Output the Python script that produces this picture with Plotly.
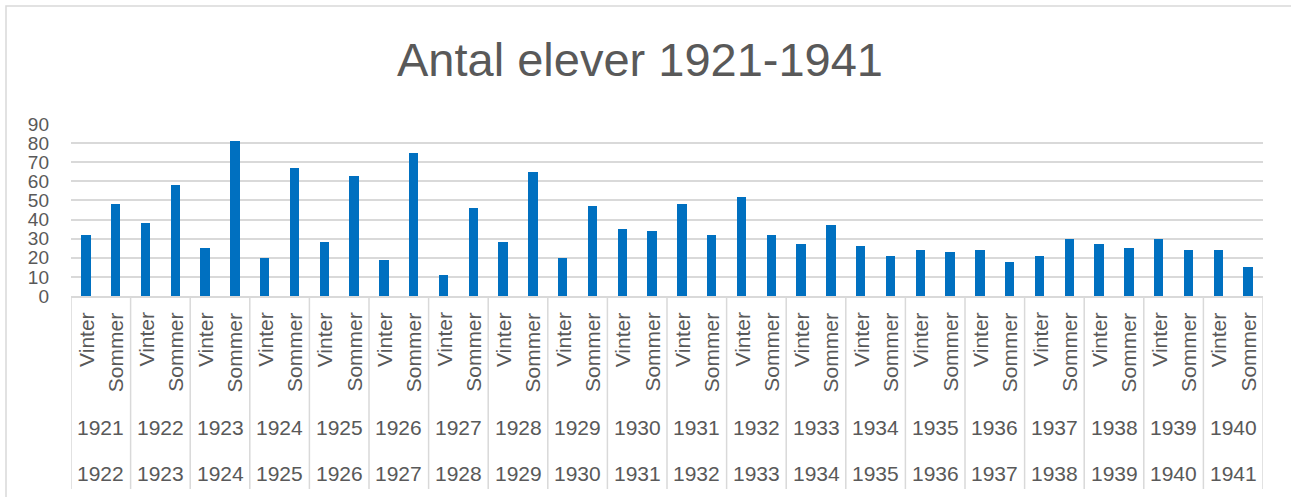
import plotly.graph_objects as go

# ---- data ----
seasons = ["Vinter", "Sommer"]
start_years = ["1921", "1922", "1923", "1924", "1925", "1926", "1927", "1928", "1929", "1930",
               "1931", "1932", "1933", "1934", "1935", "1936", "1937", "1938", "1939", "1940"]
end_years = ["1922", "1923", "1924", "1925", "1926", "1927", "1928", "1929", "1930", "1931",
             "1932", "1933", "1934", "1935", "1936", "1937", "1938", "1939", "1940", "1941"]
vinter = [32, 38, 25, 20, 28, 19, 11, 28, 20, 35, 48, 52, 27, 26, 24, 24, 21, 27, 30, 24]
sommer = [48, 58, 81, 67, 63, 75, 46, 65, 47, 34, 32, 32, 37, 21, 23, 18, 30, 25, 24, 15]
y_ticks = [0, 10, 20, 30, 40, 50, 60, 70, 80, 90]

# ---- layout geometry (pixels) ----
W, H = 1291, 497
L, R, T, B = 71, 1263, 124, 296
PW, PH = R - L, B - T


def xp(px):
    return (px - L) / PW


def yp(py):
    return (B - py) / PH


TXT = "#595959"
GRID = "#d9d9d9"
FONT = "Liberation Sans, Arial, sans-serif"

cats, vals, season_of = [], [], []
for i in range(len(start_years)):
    for s, arr in zip(seasons, (vinter, sommer)):
        cats.append(f"{start_years[i]}-{end_years[i]} {s}")
        vals.append(arr[i])
        season_of.append(s)

fig = go.Figure(go.Bar(x=cats, y=vals, width=0.32, marker=dict(color="#0070C0", line=dict(width=0))))

annotations = []
shapes = []
for c, s in zip(cats, season_of):
    annotations.append(dict(x=c, xref="x", y=yp(311), yref="paper", text=s, textangle=-90,
                            showarrow=False, xanchor="center", yanchor="top",
                            font=dict(size=21, color=TXT, family=FONT)))
for i in range(len(start_years)):
    xc = 2 * i + 0.5
    annotations.append(dict(x=xc, xref="x", y=yp(427), yref="paper", text=start_years[i],
                            showarrow=False, xanchor="center", yanchor="middle",
                            font=dict(size=21, color=TXT, family=FONT)))
    annotations.append(dict(x=xc, xref="x", y=yp(473), yref="paper", text=end_years[i],
                            showarrow=False, xanchor="center", yanchor="middle",
                            font=dict(size=21, color=TXT, family=FONT)))
for k in range(len(start_years) + 1):
    xd = 2 * k - 0.5
    shapes.append(dict(type="line", xref="x", yref="paper", x0=xd, x1=xd, y0=yp(296), y1=yp(489),
                       line=dict(color=GRID, width=1.5)))

# outer chart border (left + top visible)
shapes.append(dict(type="rect", xref="paper", yref="paper", x0=xp(6), x1=xp(1320), y0=yp(6), y1=yp(520),
                   line=dict(color=GRID, width=1.5), fillcolor="rgba(0,0,0,0)", layer="below"))

fig.update_layout(
    width=W, height=H,
    margin=dict(l=L, r=W - R, t=T, b=H - B, autoexpand=False),
    paper_bgcolor="white", plot_bgcolor="white",
    title=dict(text="Antal elever 1921-1941", x=640 / W, xanchor="center", y=1 - 60 / H,
               yanchor="middle", font=dict(size=47, color=TXT, family=FONT)),
    showlegend=False,
    bargap=0,
    hovermode=False,
    xaxis=dict(type="category", range=[-0.5, len(cats) - 0.5], showticklabels=False, ticks="",
               showgrid=False, showline=True, linecolor=GRID, linewidth=1.5, zeroline=False),
    yaxis=dict(range=[0, 90], tickvals=y_ticks, showgrid=True, gridcolor=GRID, gridwidth=1.5,
               zeroline=False, showline=False, ticks="", ticklabelstandoff=21,
               tickfont=dict(size=19, color=TXT, family=FONT)),
    annotations=annotations,
    shapes=shapes,
)

fig.write_html("out.html", config={"displayModeBar": False},
               post_script="document.body.style.margin='0px';document.body.style.overflow='hidden';")
